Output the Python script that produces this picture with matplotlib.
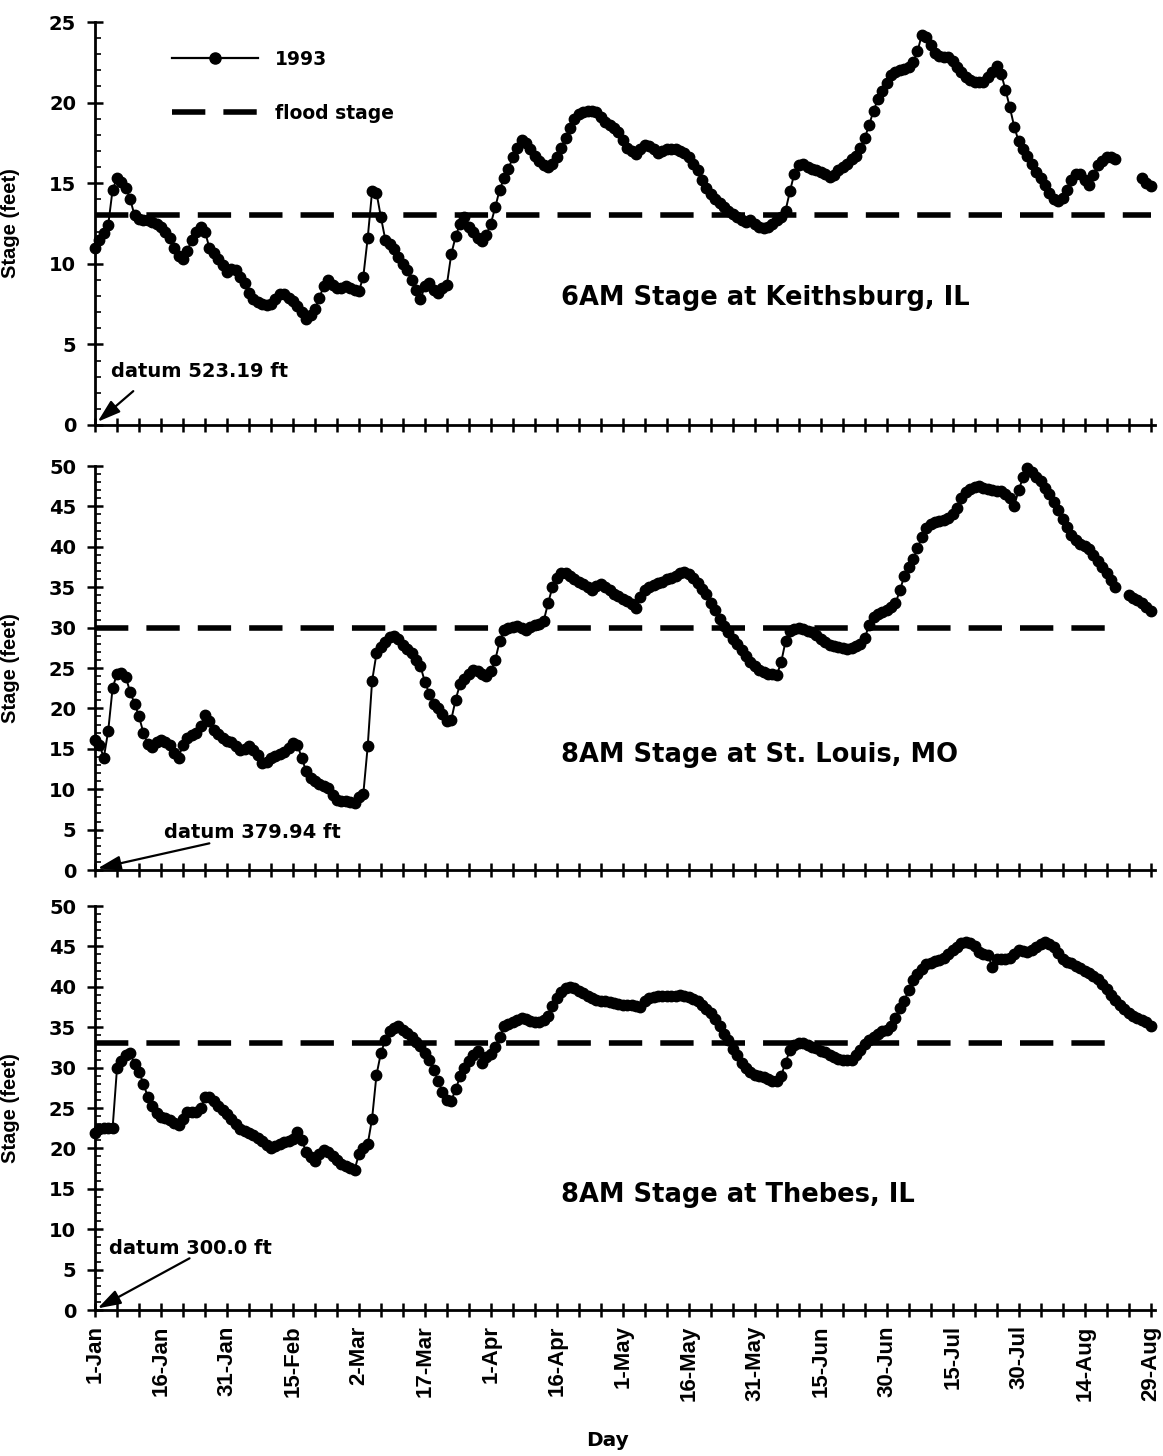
import numpy as np
import matplotlib
matplotlib.use("Agg")
import matplotlib.pyplot as plt
from matplotlib.ticker import MultipleLocator, FixedLocator
from matplotlib.lines import Line2D

nan = np.nan

# ---------------- data (daily stages, feet; day 0 = 1-Jan-1993) ----------------
keithsburg = [
    11.0, 11.5, 11.9, 12.4, 14.6, 15.3, 15.1, 14.7, 14.0, 13.0,
    12.8, 12.7, 12.7, 12.6, 12.5, 12.3, 12.0, 11.6, 11.0, 10.5,
    10.3, 10.8, 11.5, 12.0, 12.3, 12.0, 11.0, 10.7, 10.3, 9.9,
    9.5, 9.7, 9.6, 9.2, 8.8, 8.2, 7.8, 7.6, 7.5, 7.45,
    7.5, 7.8, 8.1, 8.1, 7.9, 7.7, 7.4, 7.0, 6.6, 6.8,
    7.2, 7.9, 8.6, 9.0, 8.7, 8.5, 8.5, 8.6, 8.5, 8.4,
    8.3, 9.2, 11.6, 14.5, 14.4, 12.9, 11.5, 11.2, 10.9, 10.4,
    10.0, 9.6, 9.0, 8.4, 7.8, 8.6, 8.8, 8.4, 8.2, 8.5,
    8.7, 10.6, 11.7, 12.5, 12.9, 12.3, 12.0, 11.6, 11.4, 11.8,
    12.5, 13.5, 14.6, 15.3, 15.9, 16.6, 17.2, 17.7, 17.5, 17.1,
    16.7, 16.4, 16.1, 16.0, 16.2, 16.6, 17.2, 17.8, 18.4, 19.0,
    19.3, 19.4, 19.5, 19.5, 19.4, 19.1, 18.8, 18.6, 18.4, 18.2,
    17.7, 17.2, 17.0, 16.8, 17.1, 17.4, 17.3, 17.1, 16.9, 17.0,
    17.1, 17.1, 17.1, 17.0, 16.9, 16.6, 16.2, 15.8, 15.2, 14.7,
    14.3, 14.0, 13.8, 13.5, 13.3, 13.1, 12.9, 12.7, 12.6, 12.7,
    12.5, 12.3, 12.2, 12.3, 12.5, 12.7, 12.9, 13.3, 14.5, 15.6,
    16.1, 16.2, 16.0, 15.9, 15.8, 15.7, 15.6, 15.4, 15.5, 15.8,
    16.0, 16.2, 16.5, 16.7, 17.2, 17.8, 18.6, 19.5, 20.2, 20.7,
    21.2, 21.7, 21.9, 22.0, 22.1, 22.2, 22.5, 23.2, 24.2, 24.1,
    23.6, 23.1, 22.9, 22.8, 22.8, 22.6, 22.2, 21.9, 21.6, 21.4,
    21.3, 21.3, 21.3, 21.6, 21.9, 22.3, 21.8, 20.8, 19.7, 18.5,
    17.6, 17.1, 16.7, 16.2, 15.7, 15.3, 14.9, 14.4, 14.0, 13.9,
    14.1, 14.6, 15.2, 15.6, 15.6, 15.2, 14.9, 15.5, 16.1, 16.4,
    16.6, 16.6, 16.5, nan, nan, nan, nan, nan, 15.3, 15.0,
    14.8,
]

st_louis = [
    16.1, 15.5, 13.9, 17.2, 22.5, 24.3, 24.4, 23.9, 22.0, 20.6,
    19.0, 17.0, 15.6, 15.2, 15.8, 16.1, 15.9, 15.5, 14.5, 13.9,
    15.5, 16.3, 16.7, 17.0, 17.8, 19.2, 18.5, 17.3, 16.8, 16.3,
    16.0, 15.8, 15.3, 14.8, 15.0, 15.3, 14.9, 14.2, 13.3, 13.4,
    13.9, 14.1, 14.4, 14.6, 15.1, 15.7, 15.5, 13.9, 12.2, 11.4,
    11.0, 10.7, 10.4, 10.1, 9.3, 8.7, 8.5, 8.5, 8.4, 8.3,
    9.0, 9.4, 15.3, 23.4, 26.8, 27.6, 28.2, 28.8, 28.9, 28.6,
    27.9, 27.3, 26.8, 26.0, 25.2, 23.3, 21.8, 20.6, 20.0, 19.3,
    18.4, 18.6, 21.1, 23.0, 23.7, 24.2, 24.8, 24.6, 24.3, 24.0,
    24.6, 26.0, 28.3, 29.7, 30.0, 30.1, 30.2, 29.9, 29.7, 30.1,
    30.3, 30.5, 30.8, 33.0, 35.0, 36.2, 36.8, 36.7, 36.4, 36.0,
    35.7, 35.4, 35.0, 34.7, 35.1, 35.4, 35.0, 34.6, 34.2, 33.9,
    33.6, 33.3, 32.9, 32.4, 33.8, 34.7, 35.0, 35.3, 35.5, 35.7,
    36.0, 36.2, 36.4, 36.7, 36.9, 36.6, 36.1, 35.5, 34.8, 34.1,
    33.0, 32.2, 31.1, 30.2, 29.4, 28.6, 28.0, 27.2, 26.5, 25.8,
    25.2, 24.8, 24.5, 24.3, 24.2, 24.1, 25.7, 28.3, 29.6, 29.8,
    29.9, 29.8, 29.6, 29.5, 29.1, 28.6, 28.2, 27.9, 27.7, 27.6,
    27.5, 27.4, 27.5, 27.7, 28.0, 28.7, 30.3, 31.3, 31.7, 31.9,
    32.2, 32.5, 33.0, 34.6, 36.4, 37.5, 38.5, 39.8, 41.2, 42.3,
    42.8, 43.1, 43.2, 43.3, 43.6, 44.1, 44.8, 46.1, 46.8, 47.2,
    47.4, 47.5, 47.3, 47.1, 47.0, 46.9, 46.9, 46.5, 46.0, 45.1,
    47.0, 48.6, 49.7, 49.2, 48.6, 48.1, 47.3, 46.5, 45.6, 44.6,
    43.4, 42.4, 41.4, 40.8, 40.4, 40.1, 39.7, 39.0, 38.3, 37.5,
    36.7, 35.9, 35.0, nan, nan, 34.0, 33.7, 33.4, 33.0, 32.6,
    32.0,
]

thebes = [
    21.9, 22.4, 22.5, 22.5, 22.5, 29.9, 30.8, 31.5, 31.8, 30.4,
    29.5, 28.0, 26.4, 25.2, 24.4, 23.9, 23.8, 23.5, 23.1, 22.9,
    23.6, 24.5, 24.5, 24.5, 25.0, 26.3, 26.4, 25.9, 25.3, 24.8,
    24.2, 23.6, 23.0, 22.4, 22.1, 21.9, 21.7, 21.3, 20.9, 20.4,
    20.1, 20.3, 20.6, 20.8, 20.9, 21.2, 22.0, 21.0, 19.6, 18.9,
    18.4, 19.3, 19.8, 19.5, 19.0, 18.6, 18.1, 17.8, 17.6, 17.3,
    19.3, 20.0, 20.5, 23.7, 29.1, 31.8, 33.4, 34.5, 34.9, 35.1,
    34.7, 34.3, 33.8, 33.2, 32.7, 31.8, 30.9, 29.7, 28.4, 27.0,
    26.0, 25.9, 27.3, 28.9, 29.9, 30.8, 31.5, 32.0, 30.6, 31.3,
    31.7, 32.6, 33.8, 35.1, 35.4, 35.7, 35.9, 36.1, 36.0, 35.8,
    35.7, 35.7, 35.9, 36.4, 37.6, 38.6, 39.3, 39.8, 40.0, 39.8,
    39.5, 39.2, 38.9, 38.6, 38.4, 38.3, 38.2, 38.1, 38.0, 37.9,
    37.8, 37.7, 37.7, 37.6, 37.5, 38.2, 38.6, 38.7, 38.8, 38.8,
    38.8, 38.8, 38.9, 39.0, 38.9, 38.7, 38.5, 38.2, 37.7, 37.2,
    36.7, 36.0, 35.1, 34.2, 33.4, 32.3, 31.5, 30.6, 30.0, 29.5,
    29.1, 28.9, 28.8, 28.6, 28.4, 28.3, 29.0, 30.6, 32.2, 32.8,
    33.0, 33.0, 32.8, 32.6, 32.4, 32.1, 31.9, 31.6, 31.3, 31.1,
    31.0, 31.0, 31.0, 31.5, 32.2, 32.9, 33.4, 33.8, 34.2, 34.5,
    34.7, 35.1, 36.1, 37.4, 38.3, 39.6, 40.8, 41.6, 42.2, 42.8,
    43.0, 43.2, 43.3, 43.6, 44.1, 44.5, 44.9, 45.4, 45.6, 45.4,
    45.1, 44.3, 44.0, 43.9, 42.5, 43.4, 43.5, 43.5, 43.6, 44.0,
    44.5, 44.4, 44.3, 44.6, 44.9, 45.3, 45.6, 45.3, 44.9, 44.2,
    43.4, 43.1, 42.9, 42.6, 42.3, 42.0, 41.7, 41.3, 41.0, 40.4,
    39.7, 39.0, 38.4, 37.8, 37.3, 36.8, 36.4, 36.1, 35.9, 35.6,
    35.2,
]

flood_stages = [13, 30, 33]
flood_end_days = [240, 230, 230]
titles = ["6AM Stage at Keithsburg, IL", "8AM Stage at St. Louis, MO", "8AM Stage at Thebes, IL"]
datum_texts = ["datum 523.19 ft", "datum 379.94 ft", "datum 300.0 ft"]
y_maxes = [25, 50, 50]

tick_days = [0, 15, 30, 45, 60, 75, 90, 105, 120, 135, 150, 165, 180, 195, 210, 225, 240]
tick_labels = ["1-Jan", "16-Jan", "31-Jan", "15-Feb", "2-Mar", "17-Mar", "1-Apr", "16-Apr",
               "1-May", "16-May", "31-May", "15-Jun", "30-Jun", "15-Jul", "30-Jul", "14-Aug", "29-Aug"]

series = [keithsburg, st_louis, thebes]

# ---------------- figure ----------------
WIDE = ['DejaVu Sans']                       # horizontal text (appears wide in the scan)
NARROW = ['Liberation Sans', 'DejaVu Sans']  # rotated text
plt.rcParams['font.family'] = WIDE
plt.rcParams['font.weight'] = 'bold'
plt.rcParams['lines.scale_dashes'] = False

W, H = 1163, 1456
fig = plt.figure(figsize=(W / 100, H / 100), dpi=100)

# axes rectangles in pixels (left, top, right, bottom)
boxes = [(95, 22, 1155, 425), (95, 466, 1155, 870), (95, 906, 1155, 1310)]

# positions of annotations (data coords)
title_pos = [(106, 7.9), (106, 14.2), (106, 14.2)]
datum_text_pos = [(3.6, 3.3), (15.6, 4.7), (3.2, 7.6)]
arrow_tail = [(8.7, 2.1), (26.0, 3.3), (21.5, 6.4)]

dash_pattern = (24, 13)

for i, (vals, box) in enumerate(zip(series, boxes)):
    l, t, r, b = box
    ax = fig.add_axes([l / W, 1 - b / H, (r - l) / W, (b - t) / H])
    days = np.arange(len(vals))
    y = np.array(vals, dtype=float)
    ax.plot(days, y, color='black', lw=1.4, marker='o', ms=7.5, mfc='black', mec='black',
            clip_on=False, zorder=3, label='1993')
    ax.plot([0, flood_end_days[i]], [flood_stages[i]] * 2, color='black', lw=4.0,
            dashes=dash_pattern, solid_capstyle='butt', dash_capstyle='butt', zorder=2,
            label='flood stage')

    ax.set_xlim(0, 241)
    ax.set_ylim(0, y_maxes[i])
    for s in ['top', 'right']:
        ax.spines[s].set_visible(False)
    for s in ['left', 'bottom']:
        ax.spines[s].set_linewidth(2.0)

    ax.xaxis.set_major_locator(FixedLocator(tick_days))
    ax.xaxis.set_minor_locator(MultipleLocator(5))
    ax.yaxis.set_major_locator(MultipleLocator(5))
    ax.yaxis.set_minor_locator(MultipleLocator(1))
    ax.tick_params(axis='x', which='both', direction='inout', length=10, width=1.8)
    ax.tick_params(axis='y', which='major', direction='inout', length=11, width=1.8,
                   labelsize=14, pad=8)
    ax.tick_params(axis='y', which='minor', direction='in', length=4, width=1.2)
    for lab in ax.get_yticklabels():
        lab.set_fontweight('bold')

    if i == 2:
        ax.set_xticklabels(tick_labels, rotation=90, fontsize=16, fontweight='bold',
                           family=NARROW)
        ax.tick_params(axis='x', which='major', pad=6)
    else:
        ax.set_xticklabels([])

    ax.text(title_pos[i][0], title_pos[i][1], titles[i], fontsize=18.5, fontweight='bold',
            ha='left', va='center')
    ax.text(datum_text_pos[i][0], datum_text_pos[i][1], datum_texts[i], fontsize=14,
            fontweight='bold', ha='left', va='center')
    ax.annotate('', xy=(0.6, 0.2), xytext=arrow_tail[i],
                arrowprops=dict(arrowstyle='-|>,head_length=1.4,head_width=0.45', color='black',
                                lw=1.6, shrinkA=0, shrinkB=0))

    ax.set_ylabel('Stage (feet)', fontsize=14.5, fontweight='bold', family=NARROW)
    ax.yaxis.set_label_coords(-(95 - 20) / (r - l), 0.5)

    if i == 0:
        handles = [Line2D([0], [0], color='black', lw=1.6, marker='o', ms=8),
                   Line2D([0], [0], color='black', lw=4.0, dashes=(24, 13))]
        ax.legend(handles, ['1993', 'flood stage'], loc='upper left',
                  bbox_to_anchor=((172 - l) / (r - l), 1 - (50 - t) / (b - t)),
                  frameon=False, fontsize=13.5, handlelength=4.6, handletextpad=0.9,
                  labelspacing=1.85, borderaxespad=0, borderpad=0)

fig.text(608 / W, 1 - 1440 / H, 'Day', fontsize=14.5, fontweight='bold', ha='center', va='center')

fig.savefig('out.png', dpi=100)
